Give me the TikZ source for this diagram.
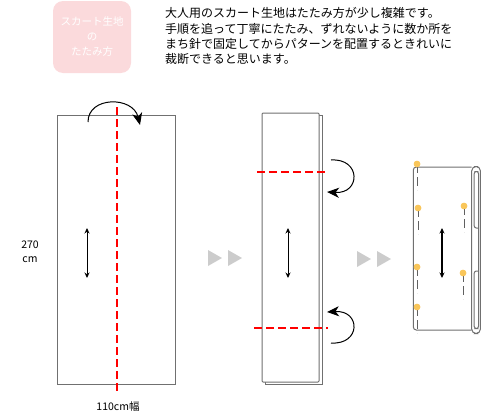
\documentclass[tikz,border=0pt]{standalone}
\usepackage{fontspec}
\setmainfont{Noto Sans CJK JP}
\usetikzlibrary{arrows.meta}

\begin{document}
\begin{tikzpicture}[x=1pt,y=-1pt]
    % Styles
    \tikzstyle{cloth} = [draw=edge color, fill=white, line width=1pt]
    \tikzstyle{fold line} = [red, line width=2.3pt, dash pattern=on 8pt off 4pt]
    \tikzstyle{grain} = [{Stealth[length=5.5pt,width=5pt]}-{Stealth[length=5.5pt,width=5pt]}, line width=0.9pt]
    \tikzstyle{turn} = [-{Stealth[length=12pt,width=10pt,inset=3.5pt]}, line width=1pt]
    \tikzstyle{next step} = [fill=step color, draw=none]
    \tikzstyle{pin head} = [circle, fill=pin color, inner sep=0pt, minimum size=6.5pt]
    \tikzstyle{pin line} = [pin stem, line width=1pt, dash pattern=on 9pt off 4pt]
    \tikzstyle{label text} = [inner sep=0pt, font=\fontsize{10.5}{14}\selectfont, align=center]

    % Colors
    \definecolor{edge color}{HTML}{707070}
    \definecolor{pin stem}{HTML}{606060}
    \definecolor{title color}{HTML}{FBDADC}
    \definecolor{step color}{HTML}{CCCCCC}
    \definecolor{pin color}{HTML}{F9C65A}

    \useasboundingbox (0,0) rectangle (481,415);

    %%% Title and explanation
    \node[fill=title color, rounded corners=10pt, minimum width=78pt, minimum height=72pt,
          inner sep=0pt, text=white, align=center, font=\fontsize{10.5}{15}\selectfont]
        (title) at (92,37) {スカート生地\\の\\たたみ方};
    \node[anchor=north west, inner sep=0pt, align=left, font=\fontsize{12}{15.3}\selectfont]
        (explain) at (165,7.5)
        {大人用のスカート生地はたたみ方が少し複雑です。\\
         手順を追って丁寧にたたみ、ずれないように数か所を\\
         まち針で固定してからパターンを配置するときれいに\\
         裁断できると思います。};
    %%%

    %%% Step 1: opened cloth
    \draw[cloth] (57,115) rectangle (175,384);
    \coordinate (fold top) at (117,107);
    \coordinate (fold bottom) at (117,392);
    \draw[fold line] (fold top) -- (fold bottom);
    \coordinate (turn1 start) at (88,122);
    \coordinate (turn1 end) at (140,125);
    \draw[turn] (turn1 start) .. controls (88,96) and (133,96) .. (turn1 end);
    \coordinate (grain1 top) at (87,228);
    \coordinate (grain1 bottom) at (87,278);
    \draw[grain] (grain1 top) -- (grain1 bottom);
    \node[label text] (length) at (30,252) {270\\cm};
    \node[label text] (width) at (118,407) {110cm幅};
    %%%

    %%% Step markers
    \foreach \x / \y in {208/258, 228/258, 357/259, 377/259}
    {
        \fill[next step] (\x,\y-8) -- (\x+14,\y) -- (\x,\y+8) -- cycle;
    }
    %%%

    %%% Step 2: folded in half
    \draw[cloth] (265,115) rectangle (322,384);
    \draw[cloth, rounded corners=1pt] (262,113) rectangle (319,382);
    \draw[fold line] (257,172) -- (328,172);
    \draw[fold line] (254,328) -- (328,328);
    \coordinate (turn2 start) at (331,160);
    \coordinate (turn2 end) at (327,192);
    \draw[turn] (turn2 start) .. controls (361,158) and (361,194) .. (turn2 end);
    \coordinate (turn3 start) at (331,343);
    \coordinate (turn3 end) at (327,312);
    \draw[turn] (turn3 start) .. controls (361,345) and (361,310) .. (turn3 end);
    \coordinate (grain2 top) at (288,228);
    \coordinate (grain2 bottom) at (288,278);
    \draw[grain] (grain2 top) -- (grain2 bottom);
    %%%

    %%% Step 3: folded and pinned
    \draw[cloth, rounded corners=3pt] (471.7,167) -| (413.3,330) -- (471.7,330);
    \draw[edge color, line width=1pt, rounded corners=4.4pt] (471.7,166.5) rectangle (480.4,333.5);
    \draw[edge color, line width=1pt, rounded corners=2.2pt]
        (478.5,228) -- (474.2,228) -- (474.2,171.5) -- (478.5,171.5) -- (478.5,328.5) -- (474.2,328.5) -- (474.2,271) -- (478.5,271);
    \coordinate (grain3 top) at (442,228);
    \coordinate (grain3 bottom) at (442,278);
    \draw[grain, line width=1.1pt] (grain3 top) -- (grain3 bottom);

    % Pins
    \foreach \x / \y [count=\i] in {417/164, 418/208, 417/267, 417/307, 464/206, 463/273}
    {
        \node[pin head] (pin\i) at (\x,\y) {};
        \draw[pin line] (pin\i.center) -- ++(0,26);
        \node[pin head] at (pin\i) {};
    }
    %%%
\end{tikzpicture}
\end{document}
